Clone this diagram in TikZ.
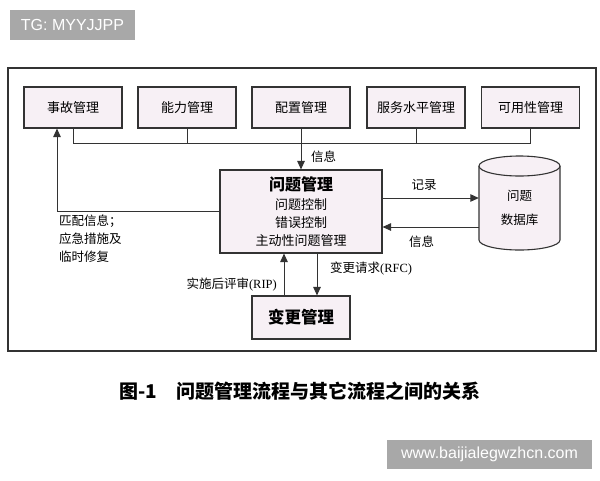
\documentclass[tikz,border=0pt]{standalone}
\usepackage{fontspec}
\setmainfont{Liberation Serif}
\newfontfamily\cjk{Noto Sans CJK SC}
\newfontfamily\lat{Liberation Serif}
\newfontfamily\wmfont{Liberation Sans}
\usetikzlibrary{arrows.meta}
\definecolor{boxfill}{HTML}{F7F0F5}
\definecolor{edge}{HTML}{333333}
\definecolor{wmgray}{HTML}{A8A8A8}
\begin{document}
\begin{tikzpicture}[x=1pt,y=-1pt,
  box/.style={draw=edge, line width=1.1pt, fill=boxfill, minimum width=98pt, minimum height=41pt, inner sep=0pt, font=\cjk\fontsize{13}{15}\selectfont},
  lbl/.style={font=\cjk\fontsize{12.5}{15}\selectfont, inner sep=0pt},
  conn/.style={draw=edge, line width=1pt},
  arr/.style={conn, -{Triangle[length=8.5pt,width=7.5pt]}},
  wm/.style={fill=wmgray, text=white, font=\wmfont\fontsize{16}{18}\selectfont, inner sep=0pt}]
\useasboundingbox (0,0) rectangle (600,480);
\fill[white] (0,0) rectangle (600,480);
% watermarks
\node[wm, minimum width=125pt, minimum height=30pt] (wm1) at (72.5,25) {TG: MYYJJPP};
\node[wm, minimum width=205pt, minimum height=29pt] (wm2) at (489.5,454.5) {www.baijialegwzhcn.com};
% frame
\draw[edge, line width=1.2pt] (8,68) rectangle (596,351);
% top boxes
\node[box] (b1) at (73,107.5) {事故管理};
\node[box] (b2) at (187,107.5) {能力管理};
\node[box] (b3) at (301,107.5) {配置管理};
\node[box] (b4) at (416,107.5) {服务水平管理};
\node[box] (b5) at (530.5,107.5) {可用性管理};
% problem management
\node[box, minimum width=162pt, minimum height=83pt, align=center, font=\cjk\fontsize{13}{18}\selectfont] (pm) at (301,211.5)
  {{\fontsize{16}{18}\selectfont\bfseries 问题管理}\\[1pt]问题控制\\错误控制\\主动性问题管理};
% change management
\node[box, minimum height=43pt, font=\cjk\bfseries\fontsize{16.5}{18}\selectfont] (cm) at (301,317.5) {变更管理};
% database
\path[fill=boxfill] (479,166) -- (479,240) arc[start angle=180,end angle=360,x radius=40.5pt,y radius=10pt] -- (560,166) -- cycle;
\draw[edge, line width=1.1pt] (479,166) -- (479,240) arc[start angle=180,end angle=360,x radius=40.5pt,y radius=10pt] -- (560,166);
\draw[edge, line width=1.1pt, fill=boxfill] (519.5,166) ellipse[x radius=40.5pt, y radius=10pt];
\node[align=center, inner sep=0pt, minimum width=81pt, font=\cjk\fontsize{12.5}{24}\selectfont] (db) at (519.5,208) {问题\\数据库};
% bus
\draw[conn] (b1.south) -- (b1.south |- 0,143) -- (b5.south |- 0,143) -- (b5.south);
\draw[conn] (b2.south) -- (b2.south |- 0,143);
\draw[conn] (b4.south) -- (b4.south |- 0,143);
\draw[arr] (b3.south) -- (pm.north);
\node[lbl, anchor=west] (l1) at (311,157) {信息};
% left feedback
\draw[arr] (pm.west) -| ([xshift=-16pt]b1.south);
\node[lbl, anchor=north west, align=left, font=\cjk\fontsize{12.5}{18}\selectfont] (l2) at (59,215) {匹配信息；\\应急措施及\\临时修复};
% database arrows
\draw[arr] ([yshift=13.5pt]pm.east) -- ([yshift=13.5pt]pm.east -| db.west);
\draw[arr] ([yshift=-15.5pt]pm.east -| db.west) -- ([yshift=-15.5pt]pm.east);
\node[lbl] (l3) at (424,185) {记录};
\node[lbl] (l4) at (421.5,242) {信息};
% change arrows
\draw[arr] ([xshift=-17pt]cm.north) -- ([xshift=-17pt]cm.north |- pm.south);
\draw[arr] ([xshift=16pt]cm.north |- pm.south) -- ([xshift=16pt]cm.north);
\node[lbl, anchor=east] (l5) at (277,285) {实施后评审{\lat (RIP)}};
\node[lbl, anchor=west] (l6) at (330,269) {变更请求{\lat (RFC)}};
% caption
\node[font=\cjk\bfseries\fontsize{19}{22}\selectfont, inner sep=0pt] (cap) at (300,391) {图-1\hspace{20pt}问题管理流程与其它流程之间的关系};
\end{tikzpicture}
\end{document}
